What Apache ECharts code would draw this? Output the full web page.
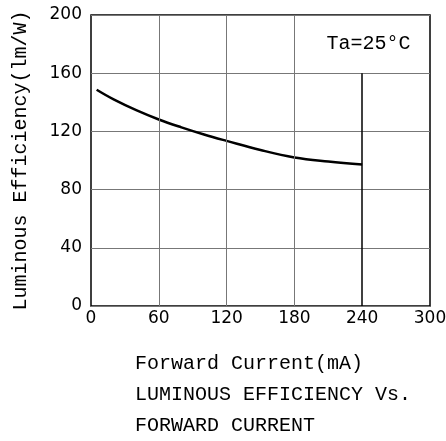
<!DOCTYPE html>
<html>
<head>
<meta charset="utf-8">
<script src="https://cdn.jsdelivr.net/npm/echarts@6/dist/echarts.min.js"></script>
<style>
  html, body { margin: 0; padding: 0; background: #fff; }
  #chart { width: 446px; height: 441px; }
</style>
</head>
<body>
<div id="chart"></div>
<script>
// forward current (mA) vs luminous efficiency (lm/W)
const current = [5, 20, 40, 60, 80, 100, 120, 150, 180, 210, 240];
const efficiency = [148.6, 142, 134.6, 128.2, 122.8, 117.9, 113.5, 107.2, 102.1, 99.3, 97.3];
const xTicks = [0, 60, 120, 180, 240, 300];
const yTicks = [0, 40, 80, 120, 160, 200];
// vertical grid lines; the one at 240 stops at 160 under the Ta label
const vLines = [
  { x: 60, top: 200, color: '#777', width: 1 },
  { x: 120, top: 200, color: '#777', width: 1 },
  { x: 180, top: 200, color: '#777', width: 1 },
  { x: 240, top: 160, color: '#000', width: 1.5 },
];

const monoFont = '"Liberation Mono", "Courier New", monospace';
const tickFont = '"DejaVu Sans", sans-serif';

const chart = echarts.init(document.getElementById('chart'));
chart.setOption({
  animation: false,
  grid: {
    left: 91,
    top: 15,
    width: 339,
    height: 291,
    outerBoundsMode: 'none',
    containLabel: false,
    show: true,
    borderColor: '#000',
    borderWidth: 1.5,
  },
  xAxis: {
    type: 'value',
    min: xTicks[0],
    max: xTicks[xTicks.length - 1],
    interval: 60,
    axisLine: { show: false },
    axisTick: { show: false },
    axisLabel: {
      color: '#000',
      fontFamily: tickFont,
      fontSize: 17,
      margin: 4,
    },
    splitLine: { show: false },
  },
  yAxis: {
    type: 'value',
    min: yTicks[0],
    max: yTicks[yTicks.length - 1],
    interval: 40,
    name: 'Luminous Efficiency(lm/W)',
    nameLocation: 'middle',
    nameGap: 60,
    nameTextStyle: { color: '#000', fontFamily: monoFont, fontSize: 20 },
    axisLine: { show: false },
    axisTick: { show: false },
    axisLabel: {
      color: '#000',
      fontFamily: tickFont,
      fontSize: 17,
      margin: 9,
    },
    splitLine: { show: true, lineStyle: { color: '#777', width: 1 } },
  },
  graphic: [
    {
      type: 'text',
      left: 135,
      top: 354,
      style: { text: 'Forward Current(mA)', font: '20px ' + monoFont, fill: '#000' },
    },
    {
      type: 'text',
      left: 135,
      top: 385,
      style: { text: 'LUMINOUS EFFICIENCY Vs.', font: '20px ' + monoFont, fill: '#000' },
    },
    {
      type: 'text',
      left: 135,
      top: 416,
      style: { text: 'FORWARD CURRENT', font: '20px ' + monoFont, fill: '#000' },
    },
  ],
  series: [
    {
      type: 'line',
      data: current.map((c, i) => [c, efficiency[i]]),
      smooth: 0.4,
      symbol: 'none',
      lineStyle: { color: '#000', width: 2.5 },
      markLine: {
        silent: true,
        symbol: 'none',
        label: { show: false },
        data: vLines.map((v) => [
          { coord: [v.x, 0], lineStyle: { color: v.color, width: v.width, type: 'solid' } },
          { coord: [v.x, v.top] },
        ]),
      },
      markPoint: {
        silent: true,
        symbol: 'rect',
        symbolSize: 1,
        itemStyle: { color: 'transparent' },
        label: {
          show: true,
          position: 'inside',
          formatter: 'Ta=25°C',
          color: '#000',
          fontFamily: monoFont,
          fontSize: 20,
        },
        data: [{ coord: [245.6, 180] }],
      },
    },
  ],
});
</script>
</body>
</html>
